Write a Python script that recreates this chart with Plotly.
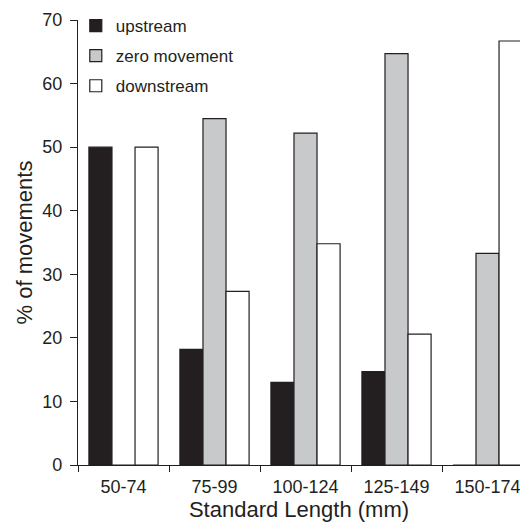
import plotly.graph_objects as go

categories = ["50-74", "75-99", "100-124", "125-149", "150-174"]
upstream = [50.0, 18.2, 13.0, 14.7, 0.0]
zero_movement = [0.0, 54.5, 52.2, 64.7, 33.3]
downstream = [50.0, 27.3, 34.8, 20.6, 66.7]
y_ticks = [0, 10, 20, 30, 40, 50, 60, 70]

ink = "#231f20"
fig = go.Figure()
for name, vals, col in [("upstream", upstream, ink),
                        ("zero movement", zero_movement, "#c8c9cb"),
                        ("downstream", downstream, "#ffffff")]:
    fig.add_trace(go.Bar(x=categories, y=vals, name=name, legendgroup=name,
                         marker=dict(color=col, line=dict(color=ink, width=1.2))))

fig.update_layout(
    width=520, height=522,
    margin=dict(l=78, r=0, t=20, b=57),
    plot_bgcolor="white", paper_bgcolor="white",
    barmode="group", bargap=0.24, bargroupgap=0,
    font=dict(family="Liberation Sans, Arial, sans-serif", size=18, color=ink),
    showlegend=True,
    legend=dict(x=-0.005, y=1.027, xanchor="left", yanchor="top",
                bgcolor="rgba(0,0,0,0)", font=dict(size=17),
                tracegroupgap=5, itemwidth=30),
    xaxis=dict(type="category", range=[-0.5, 4.357], showline=True,
               linecolor=ink, linewidth=1.3, ticks="outside", ticklen=6,
               tickcolor=ink, tickson="boundaries", showgrid=False,
               automargin=False, ticklabelstandoff=5,
               title=dict(text="Standard Length (mm)", standoff=4),
               tickfont=dict(size=18)),
    yaxis=dict(range=[0, 70], tickvals=y_ticks, showline=True, linecolor=ink,
               linewidth=1.3, ticks="outside", ticklen=7, tickcolor=ink,
               showgrid=False, zeroline=False, automargin=False,
               ticklabelstandoff=4,
               title=dict(text="% of movements", standoff=3),
               tickfont=dict(size=18)),
)

# remove the page's default body margin so the figure fills the window
fig.write_html("out.html", config={"displayModeBar": False},
               post_script="document.body.style.margin='0';document.body.style.overflow='hidden';")
